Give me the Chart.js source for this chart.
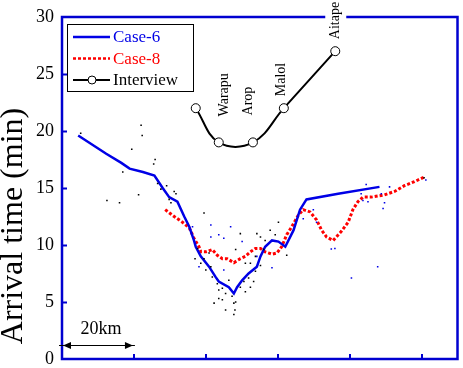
<!DOCTYPE html>
<html>
<head>
<meta charset="utf-8">
<script src="https://cdn.jsdelivr.net/npm/chart.js@4.4.1/dist/chart.umd.min.js"></script>
<style>
html,body{margin:0;padding:0;background:#fff;}
#wrap{width:463px;height:368px;position:relative;}
</style>
</head>
<body>
<div id="wrap"><canvas id="c" width="463" height="368"></canvas></div>
<script>
// ---- data (km along coast, arrival time in minutes) ----
const case6X = [4.5, 12.3, 16.5, 18.8, 22.5, 25.7, 28.0, 29.8, 32.1, 34.0, 35.4, 36.7, 37.2, 38.6, 40.9, 42.7, 43.6, 46.4, 47.8, 48.7, 50.1, 51.9, 54.2, 55.2, 56.5, 58.4, 60.2, 62.1, 64.4, 66.2, 68.0, 76.8, 88.3];
const case6Y = [19.6, 18.0, 17.2, 16.7, 16.4, 16.1, 15.0, 14.2, 13.8, 12.5, 11.6, 10.4, 9.85, 9.0, 8.1, 7.2, 6.8, 6.3, 5.75, 6.3, 6.9, 7.5, 8.1, 9.0, 9.85, 10.4, 10.3, 9.85, 11.3, 13.1, 14.0, 14.5, 15.1];

const case8X = [28.7, 31.2, 33.5, 35.4, 36.7, 38.1, 38.6, 40.0, 41.8, 43.2, 44.6, 45.9, 47.8, 49.6, 51.0, 52.4, 53.8, 55.2, 56.5, 58.4, 59.8, 61.1, 62.5, 63.9, 65.7, 67.1, 69.0, 70.8, 72.2, 73.6, 75.4, 77.7, 79.6, 80.9, 82.3, 83.7, 86.0, 89.7, 92.5, 95.2, 98.0, 101.0];
const case8Y = [13.1, 12.5, 12.0, 11.5, 10.6, 9.85, 9.4, 9.4, 9.6, 9.1, 8.8, 8.8, 8.45, 8.8, 9.0, 9.4, 9.7, 9.7, 9.4, 9.2, 9.3, 9.85, 10.9, 11.6, 12.6, 13.1, 12.9, 12.2, 11.3, 10.7, 10.4, 11.2, 12.0, 13.1, 13.8, 14.2, 14.2, 14.4, 14.7, 15.2, 15.55, 16.0];

const interviewX = [37.2, 43.6, 53.1, 61.7, 76.0];
const interviewY = [22, 19, 19, 22, 27];
const placeNames = ['', 'Warapu', 'Arop', 'Malol', 'Aitape'];

const blackDotX = [5.2, 22.0, 22.3, 19.4, 25.9, 25.5, 16.9, 21.3, 12.5, 16.0, 26.6, 27.5, 29.1, 31.2, 29.8, 31.7, 30.3, 37.7, 37.0, 39.5, 38.6, 40.0, 41.4, 41.8, 43.2, 43.6, 44.6, 45.5, 46.4, 47.3, 47.8, 48.1, 48.3, 49.6, 50.6, 51.0, 51.9, 52.4, 53.3, 53.8, 54.2, 55.2, 56.1, 56.5, 57.9, 59.3, 60.2, 55.2, 45.5, 47.8, 44.6, 42.3, 43.6, 51.0, 52.4, 40.9, 48.3, 53.8, 100.7, 62.5, 39.5, 49.6];
const blackDotY = [19.8, 20.5, 19.6, 18.4, 17.5, 17.1, 16.4, 14.4, 13.9, 13.7, 15.4, 14.9, 15.2, 14.7, 14.0, 14.5, 13.7, 9.7, 8.8, 8.8, 8.4, 7.8, 8.1, 7.2, 6.6, 6.05, 6.2, 5.75, 6.9, 5.5, 4.9, 4.3, 5.0, 6.3, 6.8, 5.9, 7.1, 6.3, 6.8, 7.7, 11.0, 10.7, 9.6, 10.4, 11.3, 10.9, 12.0, 8.2, 4.3, 3.9, 5.2, 4.9, 5.3, 8.4, 8.4, 9.3, 9.6, 9.0, 15.9, 9.1, 12.8, 11.0];
const blueDotX = [41.4, 46.9, 43.6, 45.0, 41.4, 50.1, 54.2, 58.4, 38.1, 45.0, 36.3, 84.6, 83.2, 83.7, 85.1, 88.8, 89.7, 89.3, 91.1, 74.9, 75.9, 87.8, 80.5, 69.9, 67.1, 70.8, 101.2];
const blueDotY = [11.75, 11.6, 10.9, 10.6, 10.7, 10.3, 9.0, 8.0, 8.1, 7.8, 11.6, 15.3, 14.5, 13.9, 13.8, 14.5, 13.7, 13.2, 15.1, 9.65, 9.7, 8.1, 7.1, 13.1, 12.3, 12.0, 15.7];

const yTicks = [0, 5, 10, 15, 20, 25, 30];
const xTicks = [20, 40, 60, 80, 100];
const scaleBarKm = 20;

// ---- styles ----
const SERIF = "'Liberation Serif','Times New Roman',serif";
const BLUE = '#0000e6';
const AXIS = '#0000d0';
const RED = '#ff0000';

const pts = (xs, ys) => xs.map((x, i) => ({x, y: ys[i]}));

const decor = {
  id: 'decor',
  afterDatasetsDraw(chart) {
    const {ctx, chartArea: a, scales: {x, y}} = chart;
    ctx.save();
    // frame
    ctx.strokeStyle = AXIS;
    ctx.lineWidth = 2.5;
    ctx.strokeRect(a.left, a.top, a.right - a.left, a.bottom - a.top);
    // inward ticks
    ctx.lineWidth = 2;
    yTicks.forEach(v => {
      if (v === 0 || v === 30) return;
      const py = Math.round(y.getPixelForValue(v)) + 0.5;
      ctx.beginPath(); ctx.moveTo(a.left, py); ctx.lineTo(a.left + 5, py); ctx.stroke();
    });
    xTicks.forEach(v => {
      const px = Math.round(x.getPixelForValue(v));
      ctx.beginPath(); ctx.moveTo(px, a.bottom); ctx.lineTo(px, a.bottom - 5); ctx.stroke();
    });

    // place names next to interview points
    const offs = [null, [6, -26], [-5, -27], [-3, -12], [0, -12]];
    ctx.font = '14px ' + SERIF;
    ctx.textBaseline = 'middle';
    ctx.textAlign = 'left';
    placeNames.forEach((name, i) => {
      if (!name) return;
      const px = x.getPixelForValue(interviewX[i]) + offs[i][0];
      const py = y.getPixelForValue(interviewY[i]) + offs[i][1];
      const w = ctx.measureText(name).width;
      ctx.save();
      ctx.translate(px, py);
      ctx.rotate(-Math.PI / 2);
      if (py - w < a.top + 3) {
        ctx.fillStyle = '#fff';
        ctx.fillRect(-2, -10, w + 4, 21);
      }
      ctx.fillStyle = '#000';
      ctx.fillText(name, 0, 0);
      ctx.restore();
    });

    // legend
    const lx = a.left + 5, ly = a.top + 7, lw = 126, lh = 67;
    ctx.fillStyle = '#fff';
    ctx.fillRect(lx, ly, lw, lh);
    ctx.strokeStyle = '#000';
    ctx.lineWidth = 1;
    ctx.strokeRect(lx + 0.5, ly + 0.5, lw, lh);
    const items = [
      {t: 'Case-6', c: BLUE, dash: [], w: 2.5, circ: false},
      {t: 'Case-8', c: RED, dash: [3, 2], w: 2.5, circ: false},
      {t: 'Interview', c: '#000', dash: [], w: 2, circ: true}
    ];
    ctx.font = '17px ' + SERIF;
    items.forEach((it, i) => {
      const cy = ly + 13 + i * 21.5;
      ctx.strokeStyle = it.c;
      ctx.lineWidth = it.w;
      ctx.setLineDash(it.dash);
      ctx.beginPath(); ctx.moveTo(lx + 6, cy); ctx.lineTo(lx + 43, cy); ctx.stroke();
      ctx.setLineDash([]);
      if (it.circ) {
        ctx.beginPath(); ctx.arc(lx + 25, cy, 4, 0, Math.PI * 2);
        ctx.fillStyle = '#fff'; ctx.fill();
        ctx.lineWidth = 1; ctx.stroke();
      }
      ctx.fillStyle = it.c;
      ctx.textAlign = 'left';
      ctx.textBaseline = 'middle';
      ctx.fillText(it.t, lx + 46, cy + 1);
    });

    // scale bar
    const x0 = x.getPixelForValue(0), x1 = x.getPixelForValue(scaleBarKm);
    const by = 345.5;
    ctx.strokeStyle = '#000'; ctx.fillStyle = '#000'; ctx.lineWidth = 1;
    ctx.beginPath(); ctx.moveTo(x0 - 3, by); ctx.lineTo(x1 + 1, by); ctx.stroke();
    ctx.beginPath(); ctx.moveTo(x0 + 1, by); ctx.lineTo(x0 + 9, by - 3.5); ctx.lineTo(x0 + 9, by + 3.5); ctx.closePath(); ctx.fill();
    ctx.beginPath(); ctx.moveTo(x1 - 1, by); ctx.lineTo(x1 - 9, by - 3.5); ctx.lineTo(x1 - 9, by + 3.5); ctx.closePath(); ctx.fill();
    ctx.font = '18px ' + SERIF;
    ctx.textAlign = 'center';
    ctx.textBaseline = 'alphabetic';
    ctx.fillText(scaleBarKm + 'km', (x0 + x1) / 2 + 3, by - 12);

    // y axis title
    ctx.save();
    ctx.translate(14, 226);
    ctx.rotate(-Math.PI / 2);
    ctx.font = '32px ' + SERIF;
    ctx.textAlign = 'center';
    ctx.textBaseline = 'middle';
    ctx.fillStyle = '#000';
    ctx.fillText('Arrival time (min)', 0, 0);
    ctx.restore();

    ctx.restore();
  }
};

new Chart(document.getElementById('c'), {
  type: 'scatter',
  data: {
    datasets: [
      {label: 'black dots', data: pts(blackDotX, blackDotY), showLine: false, pointStyle: 'rect', pointRadius: 1.1, backgroundColor: '#000', borderWidth: 0},
      {label: 'blue dots', data: pts(blueDotX, blueDotY), showLine: false, pointStyle: 'rect', pointRadius: 1.1, backgroundColor: BLUE, borderWidth: 0},
      {label: 'Case-6', data: pts(case6X, case6Y), showLine: true, borderColor: BLUE, borderWidth: 2.5, pointRadius: 0, tension: 0},
      {label: 'Case-8', data: pts(case8X, case8Y), showLine: true, borderColor: RED, borderWidth: 3, borderDash: [3, 2], pointRadius: 0, tension: 0},
      {label: 'Interview', data: pts(interviewX, interviewY), showLine: true, borderColor: '#000', borderWidth: 2, tension: 0.4,
        pointRadius: 4.5, pointBackgroundColor: '#fff', pointBorderColor: '#000', pointBorderWidth: 1}
    ]
  },
  options: {
    responsive: false,
    animation: false,
    events: [],
    layout: {padding: {top: 17, right: 1, left: 0, bottom: 0}},
    plugins: {legend: {display: false}, tooltip: {enabled: false}},
    scales: {
      x: {
        type: 'linear', min: 0, max: 110,
        grid: {display: false}, border: {display: false},
        ticks: {display: false},
        afterFit: s => { s.height = 9; s.paddingLeft = 0; s.paddingRight = 0; }
      },
      y: {
        min: 0, max: 30,
        grid: {display: false, drawTicks: false}, border: {display: false},
        ticks: {stepSize: 5, padding: 8, color: '#000', font: {family: SERIF, size: 18}},
        afterBuildTicks: s => { s.ticks = yTicks.map(v => ({value: v})); },
        afterFit: s => { s.width = 62; s.paddingTop = 0; s.paddingBottom = 0; }
      }
    }
  },
  plugins: [decor]
});
</script>
</body>
</html>
